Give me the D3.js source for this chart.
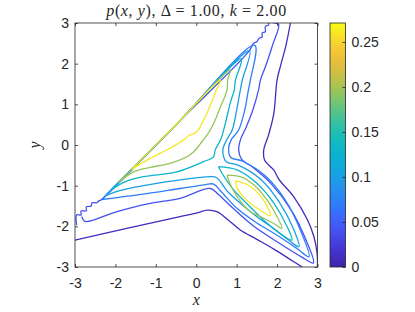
<!DOCTYPE html>
<html>
<head>
<meta charset="utf-8">
<script src="https://cdn.jsdelivr.net/npm/d3@7"></script>
<style>
  body { margin: 0; background: #fff; }
  text { fill: #262626; }
</style>
</head>
<body>
<div id="chart"></div>
<script>
// Data
const xTicks = [-3, -2, -1, 0, 1, 2, 3];
const yTicks = [-3, -2, -1, 0, 1, 2, 3];
const cbTicks = [0, 0.05, 0.1, 0.15, 0.2, 0.25];
const valueRange = [0, 0.2711];
const levels = [0.01, 0.04, 0.07, 0.10, 0.13, 0.195, 0.26];

// contour lines, [x, y] in data units
const lvl1Right = [[2.33,3.0],[2.22,2.45],[2.10,2.00],[2.00,1.60],[1.92,0.78],[1.79,0.25],[1.67,-0.12],[1.69,-0.37],[1.92,-0.62],[2.05,-0.85],[2.41,-1.27],[2.75,-1.84],[2.91,-2.25],[2.99,-2.66],[3.0,-3.0]];
const lvl1Lower = [[-3.0,-2.34],[-1.72,-2.05],[-0.40,-1.76],[0.05,-1.66],[0.27,-1.60],[0.51,-1.64],[0.80,-1.85],[1.09,-2.09],[1.50,-2.32],[1.92,-2.56],[2.30,-2.80],[2.62,-3.0]];
const lvl2 = [[-2.96,-1.97],[-2.96,-1.72],[-2.85,-1.72],[-2.85,-1.62],[-2.72,-1.62],[-2.72,-1.52],[-2.60,-1.50],[-2.58,-1.42],[-2.46,-1.42],[-2.42,-1.38],[-2.34,-1.34],[-0.5,0.5],[1.30,2.30],[1.42,2.50],[1.50,2.54],[1.55,2.62],[1.63,2.66],[1.63,2.75],[1.71,2.79],[1.71,2.91],[1.79,2.95],[1.79,3.0],[1.96,3.0],[2.04,2.96],[1.89,2.46],[1.72,1.95],[1.59,1.60],[1.54,1.35],[1.40,0.86],[1.24,0.45],[1.09,0.12],[1.05,-0.12],[1.12,-0.35],[1.40,-0.55],[1.85,-0.95],[2.35,-1.60],[2.70,-2.30],[2.90,-2.90],[2.60,-2.75],[2.00,-2.38],[1.40,-1.98],[0.85,-1.50],[0.55,-1.22],[0.35,-1.07],[-0.40,-1.31],[-1.20,-1.45],[-2.00,-1.65],[-2.75,-1.88],[-2.83,-1.76]];
const lvl3 = [[-2.34,-1.34],[-0.5,0.5],[1.45,2.45],[1.34,1.60],[1.29,1.35],[1.20,0.86],[1.05,0.37],[0.86,0.12],[0.80,-0.10],[0.85,-0.30],[1.15,-0.40],[1.70,-0.75],[2.20,-1.35],[2.58,-2.10],[2.79,-2.75],[2.50,-2.55],[2.00,-2.22],[1.50,-1.92],[1.00,-1.55],[0.62,-1.15],[0.43,-0.96],[0.20,-0.98],[-0.40,-1.07],[-1.40,-1.22],[-2.34,-1.34]];
const lvl4 = [[-2.25,-1.25],[-0.5,0.5],[1.32,2.32],[1.14,1.60],[1.09,1.35],[1.00,0.86],[0.89,0.37],[0.74,0.10],[0.66,-0.10],[0.68,-0.30],[0.75,-0.42],[1.05,-0.50],[1.60,-0.85],[2.05,-1.40],[2.40,-2.05],[2.54,-2.50],[2.30,-2.35],[1.95,-2.08],[1.55,-1.80],[1.15,-1.48],[0.78,-1.15],[0.50,-0.80],[0.35,-0.78],[-0.40,-0.86],[-1.30,-1.00],[-2.00,-1.15],[-2.25,-1.25]];
const lvl5Wedge = [[-2.10,-1.10],[-0.5,0.5],[1.12,2.12],[0.97,1.60],[0.94,1.35],[0.84,1.03],[0.72,0.53],[0.60,0.12],[0.47,-0.12],[0.43,-0.29],[0.18,-0.41],[-0.48,-0.66],[-1.31,-0.78],[-1.75,-0.90],[-2.10,-1.10]];
const lvl5Lobe = [[0.55,-0.53],[1.01,-0.61],[1.50,-0.94],[1.92,-1.43],[2.25,-2.01],[2.37,-2.34],[2.08,-2.18],[1.67,-1.85],[1.26,-1.45],[0.93,-1.11],[0.64,-0.70],[0.55,-0.53]];
const lvl6Wedge = [[-1.93,-0.93],[-0.5,0.5],[0.85,1.85],[0.78,1.62],[0.76,1.35],[0.60,0.94],[0.43,0.53],[0.30,0.29],[0.14,0.08],[0.02,-0.08],[-0.07,-0.17],[-0.23,-0.29],[-0.65,-0.45],[-1.14,-0.55],[-1.55,-0.66],[-1.93,-0.93]];
const lvl6Lobe = [[0.76,-0.74],[1.09,-0.78],[1.42,-0.98],[1.75,-1.35],[2.00,-1.76],[2.12,-2.05],[1.92,-1.93],[1.67,-1.80],[1.34,-1.64],[1.01,-1.27],[0.83,-0.94],[0.76,-0.74]];
const lvl7Wedge = [[-1.60,-0.60],[-0.5,0.5],[0.60,1.60],[0.50,1.35],[0.30,0.86],[0.14,0.53],[0.02,0.33],[-0.10,0.26],[-0.18,0.24],[-0.23,0.19],[-0.32,0.12],[-0.65,-0.08],[-1.14,-0.33],[-1.60,-0.60]];
const lvl7Lobe = [[0.97,-0.88],[1.26,-0.97],[1.59,-1.25],[1.79,-1.58],[1.84,-1.74],[1.55,-1.58],[1.22,-1.33],[1.01,-1.05],[0.97,-0.88]];

const contourLines = [
  { level: levels[0], pts: lvl1Right },
  { level: levels[0], pts: lvl1Lower },
  { level: levels[1], pts: lvl2 },
  { level: levels[2], pts: lvl3 },
  { level: levels[3], pts: lvl4 },
  { level: levels[4], pts: lvl5Wedge },
  { level: levels[4], pts: lvl5Lobe },
  { level: levels[5], pts: lvl6Wedge },
  { level: levels[5], pts: lvl6Lobe },
  { level: levels[6], pts: lvl7Wedge },
  { level: levels[6], pts: lvl7Lobe }
];

// parula colormap stops
const parula = ["#3e26a8","#4430cc","#4747ed","#4261fc","#307bfc","#268ff0","#1aa0e3","#08b0d6","#0ab8c6","#24c0ae","#4ac490","#80c56a","#b0c44c","#d9bd3e","#fbbd3c","#f5dc2a","#f9fb15"];

const W = 415, H = 312;
const plot = { left: 75, right: 317.5, top: 23, bottom: 267 };
const cb = { left: 330, right: 345.5 };
const ink = "#262626";
const sans = "'Liberation Sans', Arial, sans-serif";
const serif = "'Liberation Serif', 'Times New Roman', serif";

const svg = d3.select("#chart").append("svg")
  .attr("width", W).attr("height", H)
  .style("font-family", sans);

const x = d3.scaleLinear().domain([-3, 3]).range([plot.left, plot.right]);
const y = d3.scaleLinear().domain([-3, 3]).range([plot.bottom, plot.top]);

const colorT = d3.scaleLinear().domain(valueRange).range([0, 1]).clamp(true);
const parulaInterp = d3.interpolateRgbBasis(parula);
const color = v => parulaInterp(colorT(v));

// contours
const defs = svg.append("defs");
defs.append("clipPath").attr("id", "plotclip")
  .append("rect").attr("x", plot.left).attr("y", plot.top)
  .attr("width", plot.right - plot.left).attr("height", plot.bottom - plot.top);

const line = d3.line()
  .x(d => x(d[0])).y(d => y(d[1]))
  .curve(d3.curveCatmullRom.alpha(0.5));

svg.append("g").attr("clip-path", "url(#plotclip)")
  .selectAll("path")
  .data(contourLines)
  .enter()
  .append("path")
  .attr("d", d => line(d.pts))
  .attr("fill", "none")
  .attr("stroke", d => color(d.level))
  .attr("stroke-width", 1.3)
  .attr("stroke-linejoin", "round");

// axes (ticks inside, box on)
const tickLen = 3;
const fmt = d => String(d);
const axB = svg.append("g").attr("transform", `translate(0,${plot.bottom})`)
  .call(d3.axisBottom(x).tickValues(xTicks).tickSize(-tickLen).tickPadding(11).tickFormat(fmt));
const axT = svg.append("g").attr("transform", `translate(0,${plot.top})`)
  .call(d3.axisTop(x).tickValues(xTicks).tickSize(-tickLen).tickFormat(""));
const axL = svg.append("g").attr("transform", `translate(${plot.left},0)`)
  .call(d3.axisLeft(y).tickValues(yTicks).tickSize(-tickLen).tickPadding(6).tickFormat(fmt));
const axR = svg.append("g").attr("transform", `translate(${plot.right},0)`)
  .call(d3.axisRight(y).tickValues(yTicks).tickSize(-tickLen).tickFormat(""));

[axB, axT, axL, axR].forEach(g => {
  g.select(".domain").remove();
  g.selectAll("line").attr("stroke", ink).attr("stroke-width", 0.8);
  g.selectAll("text").attr("fill", ink).style("font-size", "14px").style("font-family", sans);
});

svg.append("rect")
  .attr("x", plot.left).attr("y", plot.top)
  .attr("width", plot.right - plot.left).attr("height", plot.bottom - plot.top)
  .attr("fill", "none").attr("stroke", ink).attr("stroke-width", 0.8);

// axis labels (LaTeX italic)
svg.append("text")
  .attr("x", (plot.left + plot.right) / 2).attr("y", 305)
  .attr("text-anchor", "middle")
  .style("font-family", serif).style("font-style", "italic").style("font-size", "16px")
  .text("x");

svg.append("text")
  .attr("transform", `translate(39.5,${(plot.top + plot.bottom) / 2}) rotate(-90)`)
  .attr("text-anchor", "middle")
  .style("font-family", serif).style("font-style", "italic").style("font-size", "16px")
  .text("y");

// title
const title = svg.append("text")
  .attr("x", (plot.left + plot.right) / 2).attr("y", 15.5)
  .attr("text-anchor", "middle")
  .attr("textLength", 180).attr("lengthAdjust", "spacing")
  .style("font-family", serif).style("font-size", "16px");
const titleParts = [
  ["p", true], ["(", false], ["x", true], [", ", false], ["y", true], ["), Δ = 1.00, ", false],
  ["k", true], [" = 2.00", false]
];
titleParts.forEach(([t, it]) => {
  title.append("tspan").style("font-style", it ? "italic" : "normal").text(t);
});

// colorbar
const cbScale = d3.scaleLinear().domain(valueRange).range([plot.bottom, plot.top]);
const grad = defs.append("linearGradient")
  .attr("id", "cbgrad").attr("x1", 0).attr("y1", 1).attr("x2", 0).attr("y2", 0);
d3.range(0, 1.0001, 0.05).forEach(t => {
  grad.append("stop").attr("offset", t).attr("stop-color", parulaInterp(t));
});
svg.append("rect")
  .attr("x", cb.left).attr("y", plot.top)
  .attr("width", cb.right - cb.left).attr("height", plot.bottom - plot.top)
  .attr("fill", "url(#cbgrad)").attr("stroke", ink).attr("stroke-width", 0.8);

const axCb = svg.append("g").attr("transform", `translate(${cb.right},0)`)
  .call(d3.axisRight(cbScale).tickValues(cbTicks).tickSize(-tickLen).tickPadding(6).tickFormat(fmt));
axCb.select(".domain").remove();
axCb.selectAll("line").attr("stroke", ink).attr("stroke-width", 0.8);
axCb.selectAll("text").attr("fill", ink).style("font-size", "14px").style("font-family", sans);
</script>
</body>
</html>
